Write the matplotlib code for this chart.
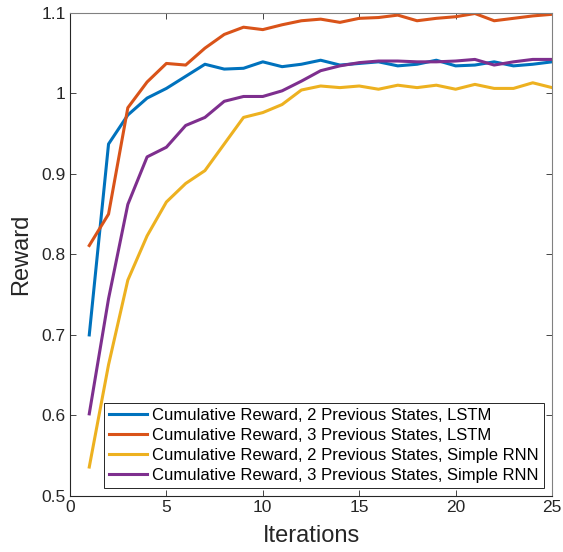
import matplotlib
matplotlib.use("Agg")
import matplotlib.pyplot as plt
from matplotlib.ticker import FuncFormatter

plt.rcParams["font.family"] = ["Liberation Sans", "DejaVu Sans"]

iterations = list(range(1, 26))

lstm_2 = [0.700, 0.937, 0.973, 0.994, 1.006, 1.021, 1.036, 1.030, 1.031, 1.039,
          1.033, 1.036, 1.041, 1.035, 1.037, 1.039, 1.034, 1.036, 1.041, 1.034,
          1.035, 1.039, 1.034, 1.036, 1.039]
lstm_3 = [0.811, 0.850, 0.982, 1.014, 1.037, 1.035, 1.056, 1.073, 1.082, 1.079,
          1.085, 1.090, 1.092, 1.088, 1.093, 1.094, 1.097, 1.090, 1.093, 1.095,
          1.099, 1.090, 1.093, 1.096, 1.098]
rnn_2 = [0.536, 0.663, 0.768, 0.823, 0.865, 0.888, 0.904, 0.937, 0.970, 0.976,
         0.986, 1.004, 1.009, 1.007, 1.009, 1.005, 1.010, 1.007, 1.010, 1.005,
         1.011, 1.006, 1.006, 1.013, 1.007]
rnn_3 = [0.602, 0.745, 0.862, 0.921, 0.933, 0.960, 0.970, 0.990, 0.996, 0.996,
         1.003, 1.015, 1.028, 1.034, 1.038, 1.040, 1.040, 1.039, 1.039, 1.040,
         1.042, 1.035, 1.039, 1.042, 1.042]

labels = ["Cumulative Reward, 2 Previous States, LSTM",
          "Cumulative Reward, 3 Previous States, LSTM",
          "Cumulative Reward, 2 Previous States, Simple RNN",
          "Cumulative Reward, 3 Previous States, Simple RNN"]
colors = ["#0072BD", "#D95319", "#EDB120", "#7E2F8E"]

fig = plt.figure(figsize=(5.63, 5.52), dpi=100)
ax = fig.add_axes([0.1243, 0.1014, 0.8562, 0.8756])

for series, label, color in zip([lstm_2, lstm_3, rnn_2, rnn_3], labels, colors):
    ax.plot(iterations, series, color=color, linewidth=2.2, label=label)

ax.set_xlim(0, 25)
ax.set_ylim(0.5, 1.1)
ax.set_xticks([0, 5, 10, 15, 20, 25])
ax.set_yticks([0.5, 0.6, 0.7, 0.8, 0.9, 1.0, 1.1])
ax.yaxis.set_major_formatter(FuncFormatter(lambda v, p: f"{v:g}"))

ax.tick_params(direction="in", top=True, right=True, length=4, width=0.6,
               labelsize=12.5, colors="#262626", labelcolor="#262626", pad=3)
for name, side in ax.spines.items():
    side.set_linewidth(0.8)
    side.set_color("#262626" if name in ("left", "bottom") else "#808080")

ax.set_xlabel("Iterations", fontsize=17, color="#262626", labelpad=7)
ax.set_ylabel("Reward", fontsize=17, color="#262626", labelpad=7)

leg = ax.legend(loc="lower right", bbox_to_anchor=(0.983, 0.0166), fontsize=12,
                fancybox=False, framealpha=1, edgecolor="#262626",
                handlelength=2.3, borderpad=0.3, labelspacing=0.3,
                handletextpad=0.3, borderaxespad=0)
leg.get_frame().set_linewidth(0.7)

fig.savefig("out.png", dpi=100)
